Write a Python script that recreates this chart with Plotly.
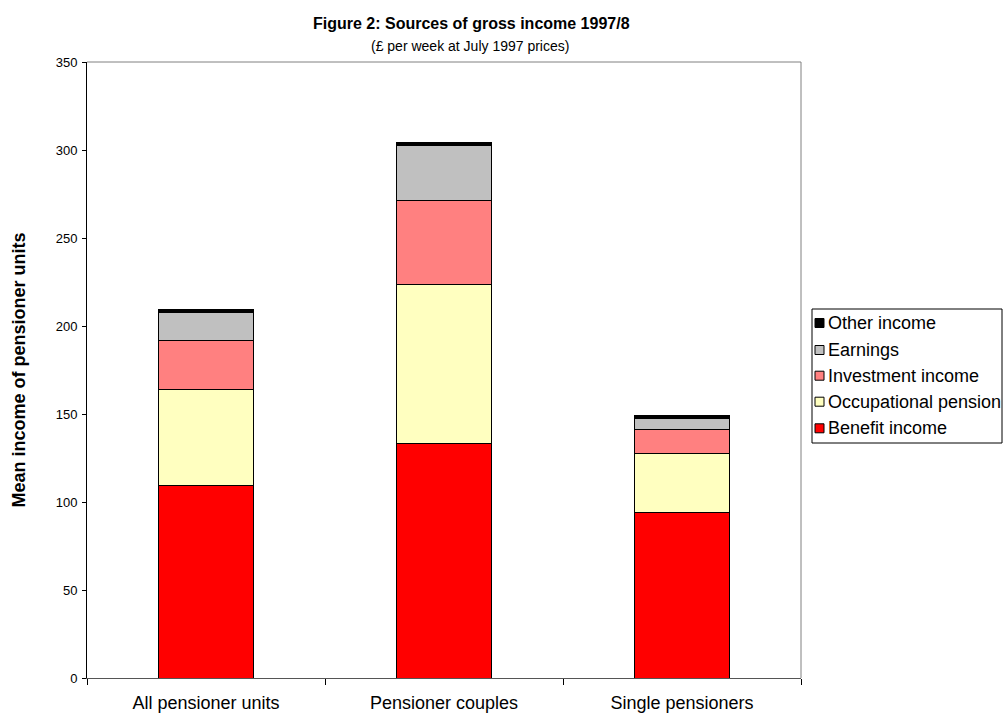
import plotly.graph_objects as go

categories = ["All pensioner units", "Pensioner couples", "Single pensioners"]
benefit = [109.4, 133.0, 94.3]
occupational = [54.8, 90.3, 33.0]
investment = [27.4, 47.9, 13.8]
earnings = [15.8, 31.2, 6.4]
other = [1.7, 1.9, 1.5]

series = [
    ("Benefit income", benefit, "#FF0000"),
    ("Occupational pension", occupational, "#FFFFC0"),
    ("Investment income", investment, "#FF8080"),
    ("Earnings", earnings, "#C0C0C0"),
    ("Other income", other, "#000000"),
]

FONT = "Liberation Sans, Arial, sans-serif"

# plot area in pixels
L, R, T, B = 87, 801, 62, 678
def px(xp):
    return (xp - L) / (R - L)
def py(yp):
    return (B - yp) / (B - T)

fig = go.Figure()
for name, vals, col in series:
    fig.add_trace(go.Bar(
        x=categories, y=vals, name=name, showlegend=False,
        marker=dict(color=col, line=dict(color="#000000", width=1)),
        width=0.4,
    ))

shapes = [
    dict(type="line", xref="paper", yref="paper", x0=0, x1=1, y0=1, y1=1,
         line=dict(color="#808080", width=1)),
    dict(type="line", xref="paper", yref="paper", x0=1, x1=1, y0=0, y1=1,
         line=dict(color="#808080", width=1)),
    # legend box
    dict(type="rect", xref="paper", yref="paper", x0=px(812), x1=px(1002), y0=py(443), y1=py(309),
         line=dict(color="#000000", width=1), fillcolor="white"),
]
annotations = [
    dict(text="<b>Figure 2: Sources of gross income 1997/8</b>", xref="paper", yref="paper",
         x=px(471), y=py(24), xanchor="center", yanchor="middle", showarrow=False,
         font=dict(size=16, family=FONT)),
    dict(text="(£ per week at July 1997 prices)", xref="paper", yref="paper",
         x=px(470), y=py(46), xanchor="center", yanchor="middle", showarrow=False,
         font=dict(size=14, family=FONT)),
    dict(text="<b>Mean income of pensioner units</b>", xref="paper", yref="paper",
         x=px(18.5), y=0.5, xanchor="center", yanchor="middle", showarrow=False,
         textangle=-90, font=dict(size=18, family=FONT)),
]

# custom legend (top item = last series)
leg_y = [428.3, 401.7, 375.7, 350.0, 323.0]
for (name, vals, col), yc in zip(series, leg_y):
    shapes.append(dict(type="rect", xref="paper", yref="paper",
                       x0=px(815), x1=px(824), y0=py(yc + 4.5), y1=py(yc - 4.5),
                       line=dict(color="#000000", width=1), fillcolor=col))
    annotations.append(dict(text=name, xref="paper", yref="paper",
                            x=px(826), y=py(yc), xanchor="left", yanchor="middle",
                            showarrow=False, font=dict(size=18, family=FONT)))

fig.update_layout(
    barmode="stack",
    width=1005, height=716,
    margin=dict(l=L, r=1005 - R, t=T, b=716 - B, autoexpand=False),
    paper_bgcolor="white", plot_bgcolor="white",
    font=dict(family=FONT, color="#000000"),
    showlegend=False,
    xaxis=dict(
        showline=True, linecolor="#555555", linewidth=1,
        ticks="outside", tickson="boundaries", ticklen=6, tickcolor="#000000",
        tickfont=dict(size=18, family=FONT),
        ticklabelstandoff=8, automargin=False,
    ),
    yaxis=dict(
        range=[0, 350], dtick=50, showgrid=False, zeroline=False,
        showline=True, linecolor="#000000", linewidth=1,
        ticks="outside", ticklen=4, tickcolor="#000000",
        tickfont=dict(size=13, family=FONT),
        ticklabelstandoff=2, automargin=False,
    ),
    shapes=shapes,
    annotations=annotations,
)

fig.write_html("out.html")
